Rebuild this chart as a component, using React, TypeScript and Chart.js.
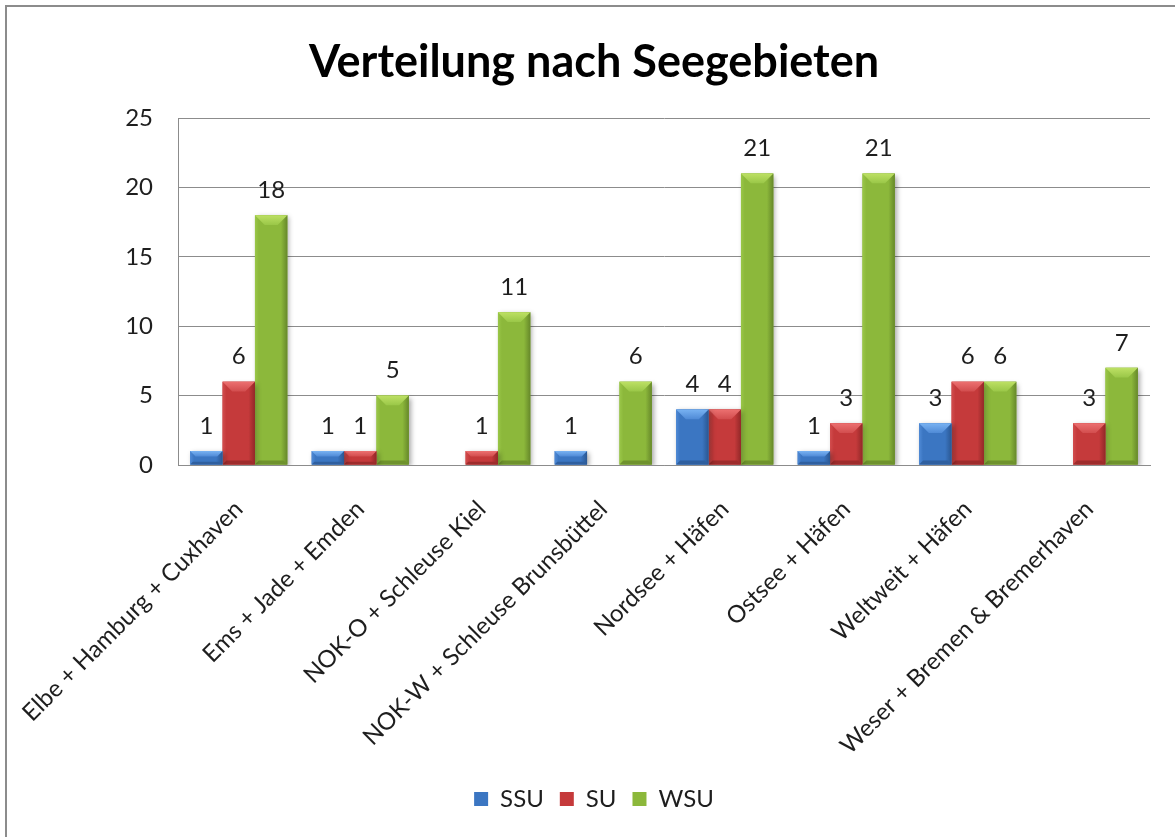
import { useEffect, useRef } from "react";
import { Chart, registerables } from "chart.js";

Chart.register(...registerables);

const categories = [
  "Elbe + Hamburg + Cuxhaven",
  "Ems + Jade + Emden",
  "NOK-O + Schleuse Kiel",
  "NOK-W + Schleuse Brunsbüttel",
  "Nordsee + Häfen",
  "Ostsee + Häfen",
  "Weltweit + Häfen",
  "Weser + Bremen & Bremerhaven",
];
const seriesNames = ["SSU", "SU", "WSU"];
const ssuValues = [1, 1, null, 1, 4, 1, 3, null];
const suValues = [6, 1, 1, null, 4, 3, 6, 3];
const wsuValues = [18, 5, 11, 6, 21, 21, 6, 7];
const yMin = 0;
const yMax = 25;
const yStep = 5;

const FONT = "Lato, 'Noto Sans', sans-serif";

const palette = [
  { base: "#3b76c2", light: "#78b2f2", side: "#4f8ad6", dark: "#2a5792", bottom: "#2f5f9f" },
  { base: "#c53a3b", light: "#ec7070", side: "#d24d4e", dark: "#922828", bottom: "#9e2c2c" },
  { base: "#8cb83b", light: "#bde064", side: "#9ac748", dark: "#66882a", bottom: "#6f922d" },
];

const framePlugin = {
  id: "frame",
  beforeDraw(chart: any) {
    const ctx = chart.ctx;
    ctx.save();
    ctx.fillStyle = "#ffffff";
    ctx.fillRect(0, 0, chart.width, chart.height);
    ctx.fillStyle = "#8c8c8c";
    ctx.fillRect(5, 5, chart.width - 5, 2);
    ctx.fillRect(5, 5, 2, chart.height - 5);
    ctx.restore();
  },
};

const bevelPlugin = {
  id: "bevel",
  beforeDatasetDraw(chart: any) {
    const ctx = chart.ctx;
    ctx.save();
    ctx.shadowColor = "rgba(0,0,0,0.35)";
    ctx.shadowBlur = 5;
    ctx.shadowOffsetX = 2;
    ctx.shadowOffsetY = 2;
  },
  afterDatasetDraw(chart: any, args: any) {
    const ctx = chart.ctx;
    ctx.restore();
    const ds = chart.data.datasets[args.index];
    const col = palette[args.index];
    args.meta.data.forEach((bar: any, i: number) => {
      if (ds.data[i] == null) return;
      const { x, y, base, width } = bar.getProps(["x", "y", "base", "width"], true);
      const l = x - width / 2;
      const r = x + width / 2;
      const t = Math.min(y, base);
      const b = Math.max(y, base);
      const h = b - t;
      if (h <= 0) return;
      ctx.save();
      const g = ctx.createLinearGradient(l, 0, r, 0);
      g.addColorStop(0, col.side);
      g.addColorStop(0.12, col.base);
      g.addColorStop(0.8, col.base);
      g.addColorStop(1, col.dark);
      ctx.fillStyle = g;
      ctx.fillRect(l, t, width, h);
      const bev = Math.min(width * 0.3, h * 0.4);
      const tg = ctx.createLinearGradient(0, t, 0, t + bev);
      tg.addColorStop(0, col.light);
      tg.addColorStop(1, col.side);
      ctx.fillStyle = tg;
      ctx.beginPath();
      ctx.moveTo(l, t);
      ctx.lineTo(r, t);
      ctx.lineTo(r - bev, t + bev);
      ctx.lineTo(l + bev, t + bev);
      ctx.closePath();
      ctx.fill();
      const bb = Math.min(bev * 0.5, 4);
      ctx.fillStyle = col.bottom;
      ctx.beginPath();
      ctx.moveTo(l, b);
      ctx.lineTo(r, b);
      ctx.lineTo(r - bb, b - bb);
      ctx.lineTo(l + bb, b - bb);
      ctx.closePath();
      ctx.fill();
      ctx.restore();
    });
  },
};

const valueLabelPlugin = {
  id: "valueLabels",
  afterDatasetsDraw(chart: any) {
    const ctx = chart.ctx;
    ctx.save();
    ctx.font = `24px ${FONT}`;
    ctx.fillStyle = "#1e1e1e";
    ctx.textAlign = "center";
    ctx.textBaseline = "middle";
    chart.data.datasets.forEach((ds: any, di: number) => {
      const meta = chart.getDatasetMeta(di);
      meta.data.forEach((bar: any, i: number) => {
        const v = ds.data[i];
        if (v == null) return;
        const { x, y } = bar.getProps(["x", "y"], true);
        ctx.fillText(String(v), x, y - 25);
      });
    });
    ctx.restore();
  },
};

export default function App() {
  const ref = useRef<HTMLCanvasElement | null>(null);
  useEffect(() => {
    if (!ref.current) return;
    const seriesValues = [ssuValues, suValues, wsuValues];
    const chart = new Chart(ref.current, {
      type: "bar",
      data: {
        labels: categories,
        datasets: seriesNames.map((name, i) => ({
          label: name,
          data: seriesValues[i],
          backgroundColor: palette[i].base,
          borderWidth: 0,
          categoryPercentage: 0.8,
          barPercentage: 1,
        })),
      },
      options: {
        responsive: false,
        animation: false,
        layout: { padding: { left: 38, right: 25, top: 0, bottom: 16 } },
        plugins: {
          title: {
            display: true,
            text: "Verteilung nach Seegebieten",
            color: "#000000",
            font: { family: FONT, size: 45, weight: "bold" },
            padding: { top: 35, bottom: 29 },
          },
          legend: {
            position: "bottom",
            labels: {
              boxWidth: 14,
              boxHeight: 14,
              padding: 16,
              color: "#1e1e1e",
              font: { family: FONT, size: 24 },
            },
          },
          tooltip: { enabled: false },
        },
        scales: {
          x: {
            grid: { display: false, drawTicks: false },
            border: { display: true, color: "#8c8c8c", width: 1 },
            ticks: {
              autoSkip: false,
              maxRotation: 45,
              minRotation: 45,
              padding: 30,
              color: "#1e1e1e",
              font: { family: FONT, size: 24 },
            },
            afterFit(scale: any) {
              scale.height = 306;
              scale.paddingLeft = 0;
              scale.paddingRight = 0;
            },
          },
          y: {
            min: yMin,
            max: yMax,
            grid: { color: "#8c8c8c", drawTicks: false },
            border: { display: true, color: "#8c8c8c", width: 1 },
            ticks: {
              stepSize: yStep,
              padding: 25,
              color: "#1e1e1e",
              font: { family: FONT, size: 24 },
            },
            afterFit(scale: any) {
              scale.width = 140;
            },
          },
        },
      },
      plugins: [framePlugin, bevelPlugin, valueLabelPlugin],
    });
    return () => chart.destroy();
  }, []);
  return (
    <div style={{ position: "fixed", left: 0, top: 0, width: 1175, height: 837 }}>
      <canvas ref={ref} width={1175} height={837} />
    </div>
  );
}
